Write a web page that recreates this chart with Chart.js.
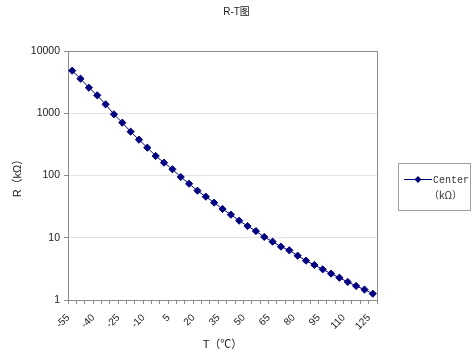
<!DOCTYPE html>
<html>
<head>
<meta charset="utf-8">
<script src="https://cdn.jsdelivr.net/npm/chart.js@4/dist/chart.umd.min.js"></script>
<style>
  html, body { margin: 0; padding: 0; background: #fff; }
  #wrap { width: 473px; height: 363px; }
</style>
</head>
<body>
<div id="wrap"><canvas id="rtChart" width="473" height="363"></canvas></div>
<script>
// temperature categories (℃)
const temps = [-55, -50, -45, -40, -35, -30, -25, -20, -15, -10, -5, 0, 5, 10, 15, 20, 25, 30,
  35, 40, 45, 50, 55, 60, 65, 70, 75, 80, 85, 90, 95, 100, 105, 110, 115, 120, 125]
// resistance (kΩ)
const resistance = [4830, 3590, 2575, 1940, 1390, 962, 706, 506, 376, 280, 206, 161, 126, 94.6,
  73.8, 57.0, 45.7, 36.6, 29.0, 23.5, 18.8, 15.4, 12.8, 10.3, 8.65, 7.19, 6.29, 5.15, 4.28,
  3.65, 3.11, 2.65, 2.28, 1.95, 1.68, 1.47, 1.26]
// labelled x ticks and y decades
const xTickLabels = [-55, -40, -25, -10, 5, 20, 35, 50, 65, 80, 95, 110, 125]
const yTicks = [1, 10, 100, 1000, 10000]

const navy = '#000080'
const fontFamily = '"Liberation Sans", Arial, "Noto Sans CJK SC", sans-serif'

// gray frame round the plot area, like the spreadsheet one
const plotFrame = {
  id: 'plotFrame',
  beforeDatasetsDraw(chart) {
    const {ctx, chartArea: a} = chart
    ctx.save()
    ctx.strokeStyle = '#8c8c8c'
    ctx.lineWidth = 1
    ctx.strokeRect(Math.round(a.left) + 0.5, Math.round(a.top) + 0.5,
      Math.round(a.right - a.left), Math.round(a.bottom - a.top))
    ctx.restore()
  }
}

// chart title centred on the whole picture, not on the plot
const pageTitle = {
  id: 'pageTitle',
  afterDraw(chart) {
    const ctx = chart.ctx
    ctx.save()
    ctx.fillStyle = '#222'
    ctx.font = '10px ' + fontFamily
    ctx.textAlign = 'center'
    ctx.textBaseline = 'middle'
    ctx.fillText('R-T图', chart.width / 2, 12.5)
    ctx.restore()
  }
}

// boxed legend on the right
const boxLegend = {
  id: 'boxLegend',
  afterDraw(chart) {
    const ctx = chart.ctx
    ctx.save()
    ctx.strokeStyle = '#a0a0a0'
    ctx.lineWidth = 1
    ctx.strokeRect(398.5, 163.5, 72, 47)
    ctx.strokeStyle = navy
    ctx.beginPath()
    ctx.moveTo(404, 179.5)
    ctx.lineTo(432, 179.5)
    ctx.stroke()
    ctx.fillStyle = navy
    ctx.beginPath()
    ctx.moveTo(418, 176)
    ctx.lineTo(421.5, 179.5)
    ctx.lineTo(418, 183)
    ctx.lineTo(414.5, 179.5)
    ctx.closePath()
    ctx.fill()
    ctx.fillStyle = '#333'
    ctx.font = '10px "Liberation Mono", "Noto Sans CJK SC", monospace'
    ctx.textBaseline = 'middle'
    ctx.textAlign = 'left'
    ctx.fillText('Center', 433, 180)
    ctx.font = '10px "Noto Sans CJK SC", "Liberation Mono", monospace'
    ctx.fillText('（kΩ）', 429, 195)
    ctx.restore()
  }
}

const ctx = document.getElementById('rtChart').getContext('2d')
const myChart = new Chart(ctx, {
  type: 'line',
  data: {
    labels: temps,
    datasets: [{
      label: 'Center（kΩ）',
      data: resistance,
      borderColor: navy,
      backgroundColor: navy,
      borderWidth: 1,
      pointStyle: 'rectRot',
      pointRadius: 3.6,
      pointHoverRadius: 3.6,
      tension: 0
    }]
  },
  options: {
    responsive: false,
    animation: false,
    events: [],
    layout: { padding: { left: 0, right: 96, top: 51, bottom: 0 } },
    plugins: {
      legend: { display: false },
      tooltip: { enabled: false },
      title: { display: false }
    },
    scales: {
      x: {
        type: 'category',
        offset: true,
        afterFit(scale) { scale.height = 63 },
        grid: {
          offset: true,
          drawOnChartArea: false,
          drawTicks: true,
          tickLength: 4,
          tickColor: '#8c8c8c'
        },
        border: { color: '#8c8c8c' },
        ticks: {
          autoSkip: false,
          minRotation: 45,
          maxRotation: 45,
          padding: 4,
          color: '#222',
          font: { family: fontFamily, size: 10 },
          callback(value, index) {
            const t = temps[index]
            // trailing spaces push the slanted label down-left off the tick
            return xTickLabels.includes(t) ? String(t) + '  ' : ''
          }
        },
        title: {
          display: true,
          text: 'T（℃）',
          color: '#222',
          font: { family: fontFamily, size: 11 },
          padding: { top: 0, bottom: 11 }
        }
      },
      y: {
        type: 'logarithmic',
        min: 1,
        max: 10000,
        afterFit(scale) { scale.width = 68 },
        afterBuildTicks(scale) {
          scale.ticks = yTicks.map(v => ({ value: v, major: true }))
        },
        grid: {
          color: '#e3e3e3',
          tickColor: '#8c8c8c',
          tickLength: 4
        },
        border: { color: '#8c8c8c' },
        ticks: {
          padding: 4,
          color: '#222',
          font: { family: fontFamily, size: 10.5 },
          callback(value) { return String(value) }
        },
        title: {
          display: true,
          text: 'R（kΩ）',
          color: '#222',
          font: { family: fontFamily, size: 11 },
          padding: { top: 11, bottom: 0 }
        }
      }
    }
  },
  plugins: [plotFrame, pageTitle, boxLegend]
})
</script>
</body>
</html>
